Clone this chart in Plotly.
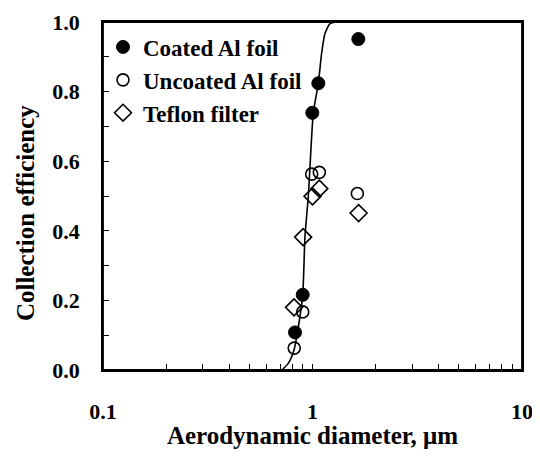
import plotly.graph_objects as go

# Data
coated_x = [1.655, 1.066, 0.998, 0.898, 0.825]
coated_y = [0.951, 0.824, 0.739, 0.216, 0.108]

uncoated_x = [0.991, 1.078, 1.637, 0.898, 0.818]
uncoated_y = [0.563, 0.568, 0.507, 0.167, 0.063]

teflon_x = [1.078, 1.000, 1.660, 0.902, 0.816]
teflon_y = [0.521, 0.499, 0.451, 0.382, 0.180]

curve_x = [0.7145, 0.766, 0.815, 0.855, 0.898, 0.921, 0.955, 0.980, 1.009, 1.066, 1.106, 1.147, 1.212, 1.293, 10.0]
curve_y = [0.0, 0.019, 0.056, 0.122, 0.216, 0.385, 0.499, 0.62, 0.739, 0.824, 0.911, 0.967, 0.995, 1.0, 1.0]

x_tickvals = [0.1, 0.2, 0.3, 0.4, 0.5, 0.6, 0.7, 0.8, 0.9, 1, 2, 3, 4, 5, 6, 7, 8, 9, 10]
x_ticktext = ["0.1", "", "", "", "", "", "", "", "", "1", "", "", "", "", "", "", "", "", "10"]

y_tickvals = [0.0, 0.1, 0.2, 0.3, 0.4, 0.5, 0.6, 0.7, 0.8, 0.9, 1.0]
y_ticktext = ["0.0", "", "0.2", "", "0.4", "", "0.6", "", "0.8", "", "1.0"]

x_title = "Aerodynamic diameter, μm"
y_title = "Collection efficiency"

FONT = "Liberation Serif, Times New Roman, serif"

fig = go.Figure()
fig.add_trace(go.Scatter(x=curve_x, y=curve_y, mode="lines", line=dict(color="black", width=1.6, shape="spline", smoothing=0.6),
                         showlegend=False, hoverinfo="skip", cliponaxis=False))
fig.add_trace(go.Scatter(x=coated_x, y=coated_y, mode="markers", name="Coated Al foil",
                         marker=dict(symbol="circle", size=13, color="black", line=dict(color="black", width=1)),
                         cliponaxis=False))
fig.add_trace(go.Scatter(x=uncoated_x, y=uncoated_y, mode="markers", name="Uncoated Al foil",
                         marker=dict(symbol="circle-open", size=12, color="black", line=dict(color="black", width=1.6)),
                         cliponaxis=False))
fig.add_trace(go.Scatter(x=teflon_x, y=teflon_y, mode="markers", name="Teflon filter",
                         marker=dict(symbol="diamond-open", size=13, color="black", line=dict(color="black", width=1.6)),
                         cliponaxis=False))

fig.update_layout(
    width=524, height=441,
    margin=dict(l=95, r=10, t=14, b=79, autoexpand=False),
    paper_bgcolor="white", plot_bgcolor="white",
    font=dict(family=FONT, size=20, color="black", weight="bold"),
    legend=dict(x=0.0, y=0.99, xanchor="left", yanchor="top", bgcolor="rgba(0,0,0,0)",
                font=dict(family=FONT, size=23, color="black", weight="bold"),
                tracegroupgap=0, itemsizing="trace"),
    annotations=[dict(text=y_title, xref="paper", yref="paper", x=-0.186, y=0.451,
                      xanchor="center", yanchor="middle", textangle=-90, showarrow=False,
                      font=dict(family=FONT, size=25, color="black", weight="bold"))],
    shapes=[dict(type="rect", xref="paper", yref="paper", x0=0, x1=1, y0=0, y1=1,
                 line=dict(color="black", width=1.8), fillcolor="rgba(0,0,0,0)", layer="above")],
)
fig.update_xaxes(
    type="log", range=[-1, 1], automargin=False,
    tickvals=x_tickvals, ticktext=x_ticktext,
    ticks="inside", ticklen=6, tickwidth=1.3, tickcolor="black",
    showline=True, linecolor="black", linewidth=1.8, mirror=True,
    showgrid=False, zeroline=False,
    ticklabelstandoff=21, ticklabeloverflow="allow",
    tickfont=dict(family=FONT, size=22, color="black", weight="bold"),
    title=dict(text=x_title, standoff=10,
               font=dict(family=FONT, size=25, color="black", weight="bold")),
)
fig.update_yaxes(
    range=[0, 1], automargin=False,
    tickvals=y_tickvals, ticktext=y_ticktext,
    ticks="inside", ticklen=6, tickwidth=1.3, tickcolor="black",
    showline=True, linecolor="black", linewidth=1.8, mirror=True,
    showgrid=False, zeroline=False,
    ticklabelstandoff=17, ticklabeloverflow="allow",
    tickfont=dict(family=FONT, size=22, color="black", weight="bold"),
)

fig.write_html("out.html")
